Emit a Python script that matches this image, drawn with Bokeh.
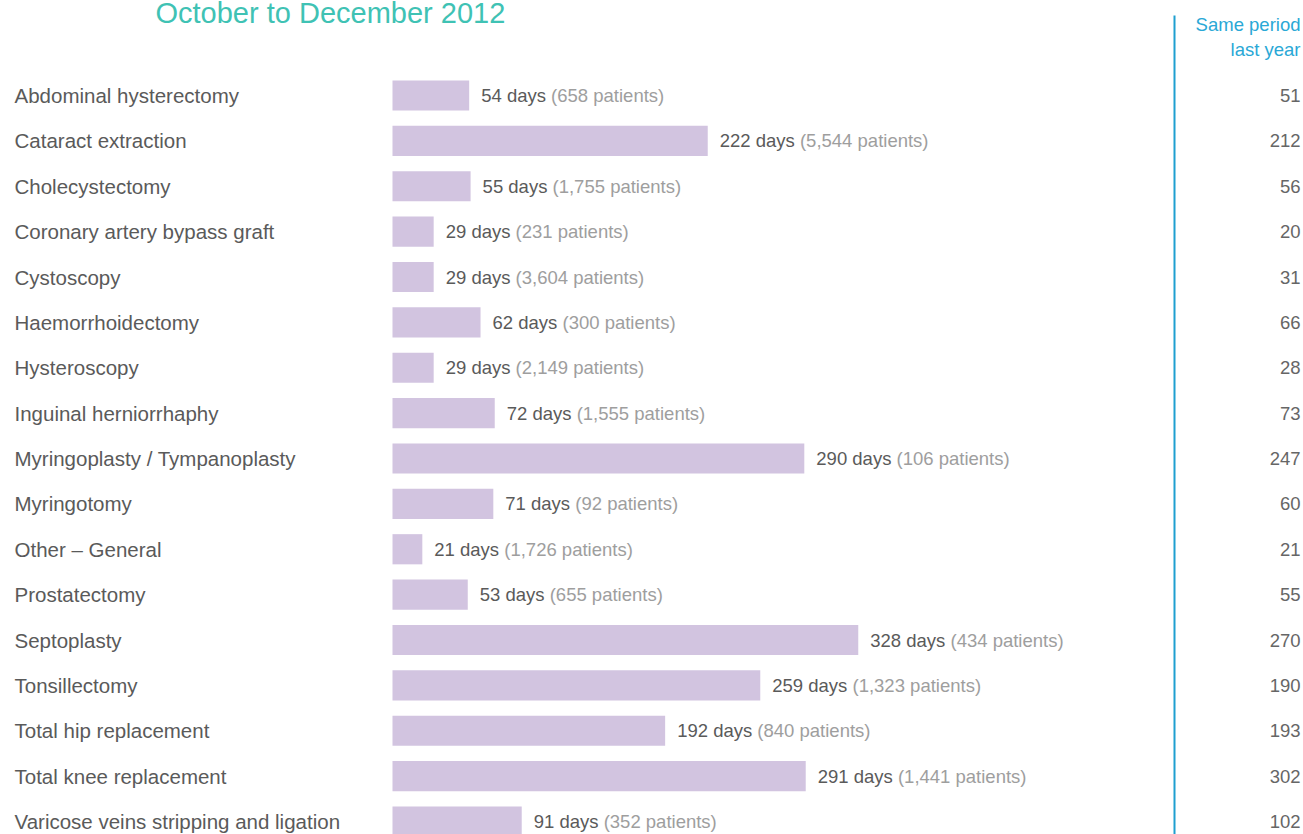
from bokeh.plotting import figure
from bokeh.models import Range1d, ColumnDataSource, Label
from bokeh.core.properties import value
from bokeh.embed import file_html
from bokeh.resources import INLINE

procedures = [
    "Abdominal hysterectomy", "Cataract extraction", "Cholecystectomy",
    "Coronary artery bypass graft", "Cystoscopy", "Haemorrhoidectomy",
    "Hysteroscopy", "Inguinal herniorrhaphy", "Myringoplasty / Tympanoplasty",
    "Myringotomy", "Other \u2013 General", "Prostatectomy", "Septoplasty",
    "Tonsillectomy", "Total hip replacement", "Total knee replacement",
    "Varicose veins stripping and ligation",
]
median_days = [54, 222, 55, 29, 29, 62, 29, 72, 290, 71, 21, 53, 328, 259, 192, 291, 91]
patients = [658, 5544, 1755, 231, 3604, 300, 2149, 1555, 106, 92, 1726, 655, 434, 1323, 840, 1441, 352]
last_year = [51, 212, 56, 20, 31, 66, 28, 73, 247, 60, 21, 55, 270, 190, 193, 302, 102]

title_text = "October to December 2012"
header_lines = ["Same period", "last year"]

W, H = 1303, 834
FONT = "Liberation Sans"
VAL_SIZE = 18.5

# Arial/Liberation Sans advance widths (per 1000 em)
ADV = {c: 556 for c in "0123456789"}
ADV.update({" ": 278, "d": 556, "a": 556, "y": 500, "s": 500, "(": 333, ")": 333, ",": 278})


def text_w(s, size):
    return sum(ADV.get(c, 556) for c in s) * size / 1000.0


n = len(procedures)
idx = list(range(n))
day_txt = [f"{d} days " for d in median_days]
pat_txt = [f"({p:,} patients)" for p in patients]
pat_off = [12 + text_w(t, VAL_SIZE) for t in day_txt]
ly_txt = [str(v) for v in last_year]

src = ColumnDataSource(dict(y=idx, days=median_days, day_txt=day_txt, pat_txt=pat_txt,
                            pat_off=pat_off, label=procedures, ly=ly_txt))

# pixel geometry -> data ranges
X0, PX_PER_DAY = 392.0, 1.42
ROW0, PITCH = 95.0, 45.375
x_start = -X0 / PX_PER_DAY
x_end = (W - X0) / PX_PER_DAY
y_top = -ROW0 / PITCH
y_bot = (H - ROW0) / PITCH

p = figure(width=W, height=H, output_backend="svg", toolbar_location=None,
           x_range=Range1d(x_start, x_end), y_range=Range1d(y_bot, y_top),
           min_border=0, outline_line_color=None, background_fill_color="white",
           border_fill_color="white")
p.axis.visible = False
p.grid.visible = False

p.hbar(y="y", left=0, right="days", height=0.665, source=src,
       fill_color="#d2c4e0", line_color=None)

label_x = (14 - X0) / PX_PER_DAY
p.text(x=label_x, y="y", text="label", source=src, text_font=value(FONT),
       text_font_size="20.5px", text_color="#5a5a5a", text_baseline="middle",
       text_align="left")

p.text(x="days", y="y", text="day_txt", source=src, x_offset=12, text_font=value(FONT),
       text_font_size=f"{VAL_SIZE}px", text_color="#5a5a5a", text_baseline="middle",
       text_align="left")
p.text(x="days", y="y", text="pat_txt", source=src, x_offset="pat_off", text_font=value(FONT),
       text_font_size=f"{VAL_SIZE}px", text_color="#9e9e9e", text_baseline="middle",
       text_align="left")

right_x = (1300 - X0) / PX_PER_DAY
p.text(x=right_x, y="y", text="ly", source=src, text_font=value(FONT),
       text_font_size=f"{VAL_SIZE}px", text_color="#666666", text_baseline="middle",
       text_align="right")

# vertical divider
line_x = (1174 - X0) / PX_PER_DAY
p.segment(x0=[line_x], x1=[line_x], y0=[(15 - ROW0) / PITCH], y1=[y_bot],
          line_color="#1f9fd0", line_width=2)

# header
for k, t in enumerate(header_lines):
    p.add_layout(Label(x=1300, y=H - (24 + 25 * k), x_units="screen", y_units="screen",
                       text=t, text_font=FONT, text_font_size="18.5px",
                       text_color="#2aa8d6", text_align="right", text_baseline="alphabetic"))

p.add_layout(Label(x=155, y=H - 12, x_units="screen", y_units="screen", text=title_text,
                   text_font=FONT, text_font_size="29px", text_color="#3fc2b4",
                   text_align="left", text_baseline="alphabetic"))

open("out.html", "w").write(file_html(p, INLINE))
